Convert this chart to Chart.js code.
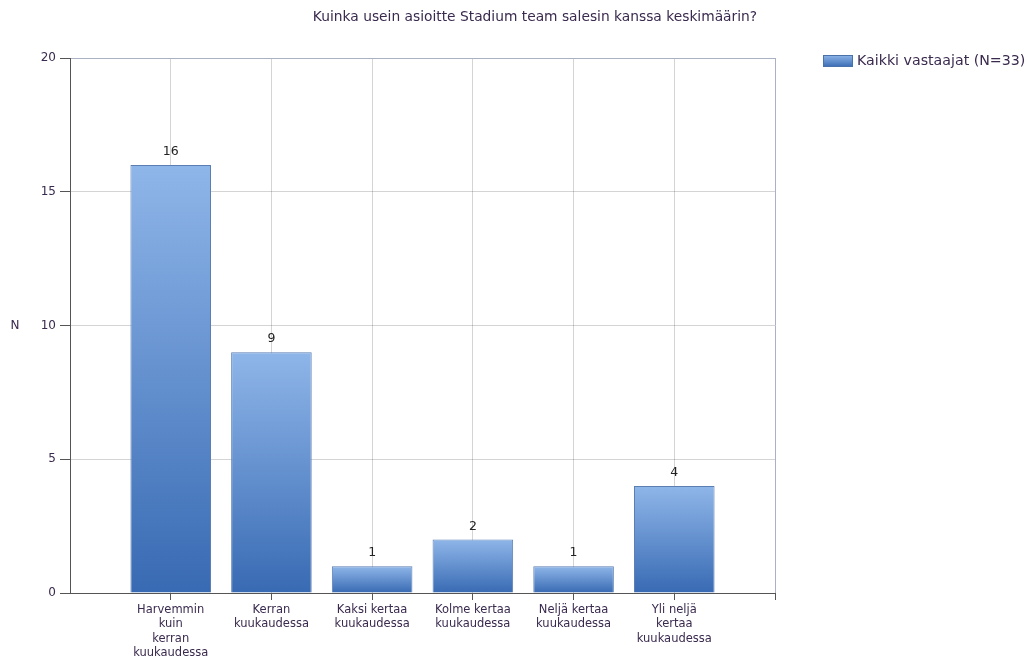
<!DOCTYPE html>
<html><head><meta charset="utf-8">
<script src="https://cdn.jsdelivr.net/npm/chart.js@4.4.0/dist/chart.umd.min.js"></script>
<style>html,body{margin:0;padding:0;background:#fff;} #wrap{width:1032px;height:660px;position:relative;}</style>
</head><body><div id="wrap"><canvas id="c"></canvas></div>
<script>
const chartTitle = "Kuinka usein asioitte Stadium team salesin kanssa keskimäärin?";
const categories = [
  ["Harvemmin","kuin","kerran","kuukaudessa"],
  ["Kerran","kuukaudessa"],
  ["Kaksi kertaa","kuukaudessa"],
  ["Kolme kertaa","kuukaudessa"],
  ["Neljä kertaa","kuukaudessa"],
  ["Yli neljä","kertaa","kuukaudessa"]
];
const seriesName = "Kaikki vastaajat (N=33)";
const values = [16, 9, 1, 2, 1, 4];
const yTicks = [0, 5, 10, 15, 20];
const yAxisTitle = "N";

const FONT = "'DejaVu Sans', Verdana, sans-serif";
const TXT = '#3a2a4e';
const FRAME = '#a9b1c2';
const GRID = 'rgba(0,0,0,0.17)';
const AXIS = '#555555';

function barGradient(ctx2d, top, bot) {
  const g = ctx2d.createLinearGradient(0, top, 0, bot);
  g.addColorStop(0, '#8fb6e9');
  g.addColorStop(1, '#386ab3');
  return g;
}

const extras = {
  id: 'extras',
  afterDatasetsDraw(chart) {
    const c = chart.ctx;
    const meta = chart.getDatasetMeta(0);
    c.save();
    c.font = '12.5px ' + FONT;
    c.fillStyle = '#222';
    c.textAlign = 'center';
    c.textBaseline = 'bottom';
    meta.data.forEach((el, i) => {
      c.fillText(String(values[i]), el.x, el.y - 7);
    });
    c.restore();
  },
  afterDraw(chart) {
    const c = chart.ctx;
    c.save();
    c.fillStyle = TXT;
    c.font = '13.8px ' + FONT;
    c.textAlign = 'center';
    c.textBaseline = 'middle';
    c.fillText(chartTitle, 535, 17);
    c.font = '12px ' + FONT;
    c.fillText(yAxisTitle, 15, 326);
    // legend
    const bx = 823, by = 55, bw = 30, bh = 12;
    c.fillStyle = barGradient(c, by, by + bh);
    c.fillRect(bx, by, bw, bh);
    c.strokeStyle = '#4a72aa';
    c.lineWidth = 1;
    c.strokeRect(bx + 0.5, by + 0.5, bw - 1, bh - 1);
    c.fillStyle = TXT;
    c.font = '14.2px ' + FONT;
    c.textAlign = 'left';
    c.fillText(seriesName, 857, 61);
    c.restore();
  }
};

new Chart(document.getElementById('c'), {
  type: 'bar',
  data: {
    datasets: [{
      label: seriesName,
      data: values.map((v, i) => ({ x: i + 1, y: v })),
      backgroundColor: (ctx) => {
        const chart = ctx.chart;
        if (!chart.chartArea || ctx.type !== 'data') return '#6a96d4';
        const y = chart.scales.y;
        return barGradient(chart.ctx, y.getPixelForValue(ctx.raw.y), y.getPixelForValue(0));
      },
      borderColor: '#5b7fb3',
      borderWidth: 1,
      barPercentage: 0.8,
      categoryPercentage: 1.0
    }]
  },
  options: {
    responsive: true,
    maintainAspectRatio: false,
    animation: false,
    layout: { padding: { top: 58, right: 257, left: 0, bottom: 0 } },
    plugins: { legend: { display: false }, title: { display: false }, tooltip: { enabled: false } },
    scales: {
      x: {
        type: 'linear',
        min: 0, max: categories.length + 1,
        offset: false,
        z: 1,
        afterFit(s) { s.height = 67; },
        ticks: {
          stepSize: 1,
          autoSkip: false,
          maxRotation: 0,
          padding: 3,
          color: TXT,
          font: { family: FONT, size: 11.5, lineHeight: 1.24 },
          callback: (v) => categories[v - 1] || ''
        },
        grid: {
          offset: false,
          color: (ctx) => (ctx.tick && ctx.tick.value === categories.length + 1) ? FRAME : GRID,
          tickColor: (ctx) => (ctx.tick && ctx.tick.value === 0) ? 'rgba(0,0,0,0)' : AXIS,
          tickLength: 7,
          lineWidth: 1
        },
        border: { color: AXIS, width: 1 }
      },
      y: {
        min: 0, max: 20,
        z: 1,
        afterFit(s) { s.width = 70; },
        afterBuildTicks(s) { s.ticks = yTicks.map(v => ({ value: v })); },
        ticks: {
          padding: 4,
          color: TXT,
          font: { family: FONT, size: 12 }
        },
        grid: {
          color: (ctx) => (ctx.tick && ctx.tick.value === 20) ? FRAME : GRID,
          tickColor: AXIS,
          tickLength: 10,
          lineWidth: 1
        },
        border: { color: AXIS, width: 1 }
      }
    }
  },
  plugins: [extras]
});
</script>
</body></html>
